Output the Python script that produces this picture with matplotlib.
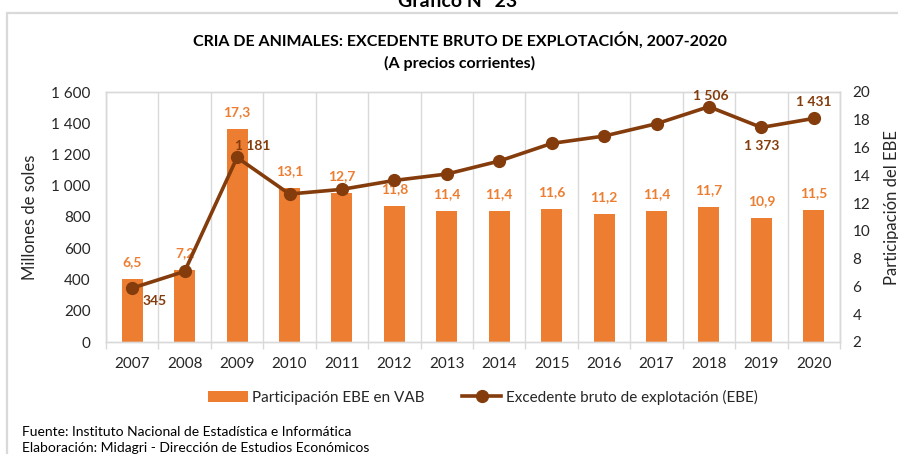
import matplotlib
matplotlib.use("Agg")
import matplotlib.pyplot as plt
from matplotlib.patches import Rectangle
from matplotlib.lines import Line2D
from matplotlib.patches import Patch

plt.rcParams['font.family'] = ['Lato', 'DejaVu Sans']

years = ["2007", "2008", "2009", "2010", "2011", "2012", "2013",
         "2014", "2015", "2016", "2017", "2018", "2019", "2020"]
participacion = [6.5, 7.2, 17.3, 13.1, 12.7, 11.8, 11.4,
                 11.4, 11.6, 11.2, 11.4, 11.7, 10.9, 11.5]
ebe = [345, 452, 1181, 947, 977, 1034, 1075,
       1158, 1271, 1318, 1397, 1506, 1373, 1431]
ebe_labeled = ["2007", "2009", "2018", "2019", "2020"]
left_ticks = [0, 200, 400, 600, 800, 1000, 1200, 1400, 1600]
right_ticks = [2, 4, 6, 8, 10, 12, 14, 16, 18, 20]

ORANGE = "#ED7D31"
BROWN = "#843C0C"
GRID = "#D9D9D9"
TXT = "#262626"

W, H = 898, 454
fig = plt.figure(figsize=(W / 100, H / 100), dpi=100)

def fx(px):
    return px / W

def fy(py):
    return 1 - py / H

# outer chart border
fig.patches.append(Rectangle((fx(7), -0.2), 1.2, fy(13) + 0.2, transform=fig.transFigure,
                             fill=False, edgecolor=GRID, lw=1.6))

ax = fig.add_axes([fx(106), fy(342), fx(840) - fx(106), fy(92) - fy(342)])
ax2 = ax.twinx()
ax2.set_zorder(1)
ax.set_zorder(2)
ax.patch.set_visible(False)

x = list(range(len(years)))
ax2.bar(x, [v - 2 for v in participacion], bottom=2, width=0.4, color=ORANGE, zorder=2)
ax2.set_ylim(2, 20)
ax2.set_yticks(right_ticks)

for xi, v in zip(x, participacion):
    ax2.annotate(f"{v:.1f}".replace(".", ","), (xi, v), xytext=(0, 12.2), textcoords="offset points",
                 ha="center", va="center", color=ORANGE, fontsize=10, fontweight="bold")

ax.plot(x, ebe, color=BROWN, lw=2.6, marker="o", markersize=8.5, zorder=5)
ax.set_ylim(0, 1600)
ax.set_yticks(left_ticks)
ax.set_yticklabels([f"{v:,}".replace(",", " ") for v in left_ticks])
ax.set_xlim(-0.5, len(years) - 0.5)

offsets = {"2007": (16, -9), "2009": (11.5, 8.5), "2018": (1, 7.5), "2019": (0, -13.5), "2020": (0, 12)}
for xi, (yr, v) in enumerate(zip(years, ebe)):
    if yr in ebe_labeled:
        ax.annotate(f"{v:,}".replace(",", " "), (xi, v), xytext=offsets[yr], textcoords="offset points",
                    ha="center", va="center", color=BROWN, fontsize=10, fontweight="bold", zorder=6)

# x axis: labels at centers, ticks and gridlines at boundaries
ax.set_xticks(x)
ax.set_xticklabels(years, fontsize=11, color=TXT)
ax.set_xticks([i - 0.5 for i in range(len(years) + 1)], minor=True)
ax.tick_params(axis="x", which="major", length=0, pad=11)
ax.tick_params(axis="x", which="minor", length=5, color=GRID, width=1)
ax.grid(axis="x", which="minor", color=GRID, lw=1)
ax2.grid(False)
for a in (ax, ax2):
    for s in a.spines.values():
        s.set_color(GRID)
        s.set_linewidth(1)
ax.tick_params(axis="y", length=0, labelsize=11, labelcolor=TXT, pad=11)
ax2.tick_params(axis="y", length=0, labelsize=11, labelcolor=TXT, pad=9)

ax.set_ylabel("Millones de soles", fontsize=12, color=TXT)
ax.yaxis.set_label_coords((38 - 106) / (840 - 106), 0.5)
ax2.set_ylabel("Participación del EBE", fontsize=12, color=TXT, rotation=90)
ax2.yaxis.set_label_coords((884 - 106) / (840 - 106), (342 - 208) / 250)

# titles
fig.text(fx(458), fy(7), "Gráfico N° 23", ha="center", va="baseline", fontsize=14, fontweight="bold", color="black")
fig.text(fx(460), fy(40), "CRIA DE ANIMALES: EXCEDENTE BRUTO DE EXPLOTACIÓN, 2007-2020",
         ha="center", va="center", fontsize=11.5, fontweight="bold", color="black")
fig.text(fx(460), fy(63), "(A precios corrientes)", ha="center", va="center",
         fontsize=11.5, fontweight="bold", color="black")

# legend
handles = [Patch(facecolor=ORANGE, edgecolor="none", label="Participación EBE en VAB"),
           Line2D([0], [0], color=BROWN, lw=2.6, marker="o", markersize=8.5,
                  label="Excedente bruto de explotación (EBE)")]
fig.legend(handles=handles, loc="center", bbox_to_anchor=(fx(483), fy(397)), ncol=2,
           frameon=False, fontsize=11, handlelength=2.6, handleheight=0.7, handletextpad=0.3,
           columnspacing=2.4, labelcolor=TXT)

fig.text(fx(22), fy(432), "Fuente: Instituto Nacional de Estadística e Informática",
         ha="left", va="center", fontsize=10, color="black")
fig.text(fx(22), fy(448), "Elaboración: Midagri - Dirección de Estudios Económicos",
         ha="left", va="center", fontsize=10, color="black")

fig.savefig("out.png", dpi=100)
